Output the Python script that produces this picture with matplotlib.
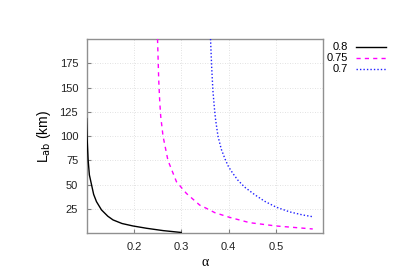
import matplotlib.pyplot as plt
from matplotlib.lines import Line2D

plt.rcParams['font.family'] = ['Liberation Sans', 'DejaVu Sans']

# curves, one per value of the legend
labels = ['0.8', '0.75', '0.7']

alpha_08 = [0.1, 0.101, 0.1034, 0.106, 0.1105, 0.115, 0.121, 0.1316, 0.145,
            0.156, 0.175, 0.198, 0.227, 0.262, 0.3]
lab_08 = [118, 100, 75, 60, 50, 40, 32.5, 24, 17.5, 13.7, 10, 7.5, 5.1, 2.7, 0.8]

alpha_075 = [0.25, 0.2525, 0.2547, 0.2568, 0.2616, 0.272, 0.29, 0.311, 0.339,
             0.353, 0.371, 0.402, 0.4445, 0.5, 0.578]
lab_075 = [200, 158, 135, 120, 100, 75, 53, 41, 29, 25.7, 21.2, 16.4, 10.9, 7.5, 4.4]

alpha_07 = [0.362, 0.3645, 0.367, 0.3705, 0.3728, 0.3777, 0.3847, 0.393, 0.4,
            0.4093, 0.42, 0.434, 0.455, 0.476, 0.5, 0.529, 0.557, 0.578]
lab_07 = [200, 170, 147, 127, 116.5, 100, 86.5, 76, 68.5, 61.5, 54.5, 47.5,
          39.8, 33, 27, 22, 18.8, 17]

xticks = [0.2, 0.3, 0.4, 0.5]
yticks = [25, 50, 75, 100, 125, 150, 175]

fig = plt.figure(figsize=(3.97, 2.78), dpi=100)
ax = fig.add_axes([0.218, 0.161, 0.596, 0.699])

styles = [dict(color='black', lw=1.0, ls='-'),
          dict(color='#ff00ff', lw=1.0, ls=(0, (3, 3))),
          dict(color='#2020ff', lw=1.0, ls=(0, (1, 1.5)))]

ax.plot(alpha_08, lab_08, zorder=3, **styles[0])
ax.plot(alpha_075, lab_075, zorder=3, **styles[1])
ax.plot(alpha_07, lab_07, zorder=3, **styles[2])

ax.set_xlim(0.1, 0.6)
ax.set_ylim(0, 200)
ax.set_xticks(xticks)
ax.set_yticks(yticks)
ax.set_xticklabels(['0.2', '0.3', '0.4', '0.5'])
ax.grid(True, color='#d8d8d8', lw=0.6, ls=(0, (1, 2)))
ax.tick_params(direction='in', length=3, width=0.8, color='#808080',
               labelsize=8, labelcolor='#222222')
ax.tick_params(axis='x', pad=6)
ax.tick_params(axis='y', pad=6)
for s in ax.spines.values():
    s.set_color('#909090')
    s.set_linewidth(1.0)

ax.set_xlabel('α', fontsize=10, family=['Liberation Serif', 'DejaVu Serif'],
              labelpad=3)
ax.set_ylabel(r'L$_{\rm ab}$ (km)', fontsize=10, labelpad=5)

# gnuplot-style key on the right
rows = [46.7, 58.3, 69.3]
for lab, st, yp in zip(labels, styles, rows):
    yf = 1 - yp / 278
    fig.text(348 / 397, yf, lab, ha='right', va='center', fontsize=8)
    fig.add_artist(Line2D([356 / 397, 386 / 397], [yf, yf],
                          transform=fig.transFigure, **st))

fig.savefig('out.png', dpi=100)
